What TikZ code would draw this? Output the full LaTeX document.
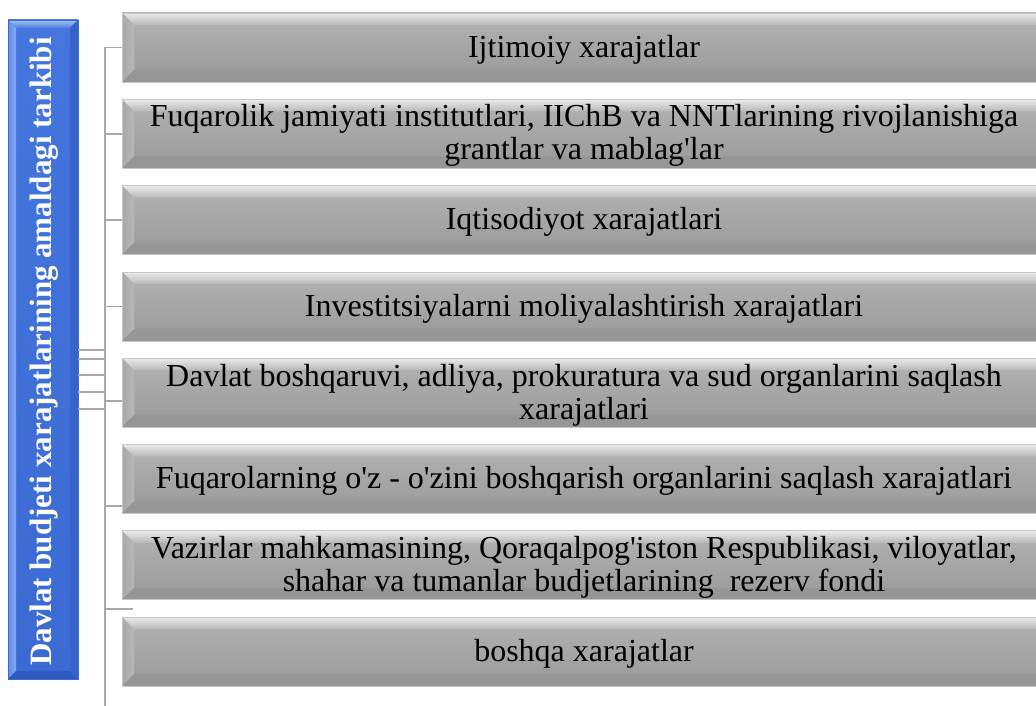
\documentclass[tikz,border=0pt]{standalone}
\usepackage{fontspec}
\setmainfont{Liberation Serif}
\newfontfamily\uzfont{Liberation Serif}
\usetikzlibrary{calc}
\definecolor{conncol}{HTML}{A8A8A8}
% macro: L,T,R,B,bevel
\newcommand\bevelrect[5]{%
  \shade[top color=mtop,bottom color=mbot] (#1,#2) rectangle (#3,#4);
  \shade[top color=ttop,bottom color=tbot] (#1,#2) -- (#3,#2) -- (#3-#5,#2+#5) -- (#1+#5,#2+#5) -- cycle;
  \shade[left color=lleft,right color=lright] (#1,#2) -- (#1+#5,#2+#5) -- (#1+#5,#4-#5) -- (#1,#4) -- cycle;
  \fill[bcol] (#1,#4) -- (#1+#5,#4-#5) -- (#3-#5,#4-#5) -- (#3,#4) -- cycle;
  \fill[rcol] (#3,#2) -- (#3-#5,#2+#5) -- (#3-#5,#4-#5) -- (#3,#4) -- cycle;
  \draw[edgecol,line width=0.8pt] (#1,#2) rectangle (#3,#4);
}
\newcommand\graycols{%
  \colorlet{mtop}{black!30}\colorlet{mbot}{black!40}%
  \colorlet{ttop}{black!8}\colorlet{tbot}{black!28}%
  \colorlet{lleft}{black!34}\colorlet{lright}{black!28}%
  \colorlet{bcol}{black!41}\colorlet{rcol}{black!34}%
  \colorlet{edgecol}{black!22}}
\newcommand\bluecols{%
  \definecolor{mtop}{HTML}{4476DD}\definecolor{mbot}{HTML}{3B6AD2}%
  \definecolor{ttop}{HTML}{A9C3F4}\definecolor{tbot}{HTML}{4A7BDF}%
  \definecolor{lleft}{HTML}{5E8CE6}\definecolor{lright}{HTML}{86A9EE}%
  \definecolor{bcol}{HTML}{2F5BC0}\definecolor{rcol}{HTML}{3565CB}%
  \definecolor{edgecol}{HTML}{3A69D0}}
\begin{document}
\begin{tikzpicture}[x=1pt,y=-1pt,
  conn/.style={draw=conncol,line width=1.8pt},
  boxtext/.style={font=\uzfont\fontsize{32}{33}\selectfont,align=center,text=black,inner sep=0pt},
  boxshape/.style={minimum width=932pt,minimum height=69pt,inner sep=0pt}]
\useasboundingbox (0,0) rectangle (1036,706);
\fill[white] (0,0) rectangle (1036,706);

% title bar
\bluecols
\bevelrect{8}{20}{78}{679}{8}
\node[minimum width=70pt,minimum height=659pt,inner sep=0pt] (bar) at (43,349.5) {};
\node[rotate=90,text=white,font=\uzfont\bfseries\fontsize{31}{34}\selectfont,inner sep=0pt] (title) at ([xshift=1pt,yshift=-2pt]bar.center) {Davlat budjeti xarajatlarining amaldagi tarkibi};

% boxes
\graycols
\foreach \t in {13,99.3,185.6,272,358.2,444.5,530.8,617.1}{
  \bevelrect{122}{\t}{1054}{\t+69}{12}
}
\node[boxshape] (b1) at (588,47.5) {};
\node[boxshape] (b2) at (588,133.8) {};
\node[boxshape] (b3) at (588,220.1) {};
\node[boxshape] (b4) at (588,306.5) {};
\node[boxshape] (b5) at (588,392.7) {};
\node[boxshape] (b6) at (588,479) {};
\node[boxshape] (b7) at (588,565.3) {};
\node[boxshape] (b8) at (588,651.6) {};

\tikzset{tshift/.style={xshift=-4pt,yshift=-2pt}}
\node[boxtext] (t1) at ([tshift]b1.center) {Ijtimoiy xarajatlar};
\node[boxtext] (t2) at ([tshift]b2.center) {Fuqarolik jamiyati institutlari, IIChB va NNTlarining rivojlanishiga\\grantlar va mablag'lar};
\node[boxtext] (t3) at ([tshift]b3.center) {Iqtisodiyot xarajatlari};
\node[boxtext] (t4) at ([tshift]b4.center) {Investitsiyalarni moliyalashtirish xarajatlari};
\node[boxtext] (t5) at ([tshift,yshift=-1pt]b5.center) {Davlat boshqaruvi, adliya, prokuratura va sud organlarini saqlash\\xarajatlari};
\node[boxtext] (t6) at ([tshift]b6.center) {Fuqarolarning o'z - o'zini boshqarish organlarini saqlash xarajatlari};
\node[boxtext] (t7) at ([tshift]b7.center) {Vazirlar mahkamasining, Qoraqalpog'iston Respublikasi, viloyatlar,\\shahar va tumanlar budjetlarining\ \ rezerv fondi};
\node[boxtext] (t8) at ([tshift]b8.center) {boshqa xarajatlar};

% connectors
\coordinate (vtop) at (105,47.5);
\coordinate (vbot) at (105,706);
\draw[conn] (vtop) -- (vbot);
\draw[conn] (vtop) -- (b1.west);
\draw[conn] (vtop |- b2.west) -- (b2.west);
\draw[conn] (vtop |- b3.west) -- (b3.west);
\draw[conn] (vtop |- b4.west) -- (b4.west);
\coordinate (s5) at (122,401);
\coordinate (s6) at (122,506);
\coordinate (s7) at (133,609);
\draw[conn] (vtop |- s5) -- (s5);
\draw[conn] (vtop |- s6) -- (s6);
\draw[conn] (vtop |- s7) -- (s7);
\foreach \y in {350,359,375,392,409}{
  \coordinate (l\y) at (105,\y);
  \draw[conn] (bar.east |- l\y) -- (l\y);
}
\end{tikzpicture}
\end{document}
